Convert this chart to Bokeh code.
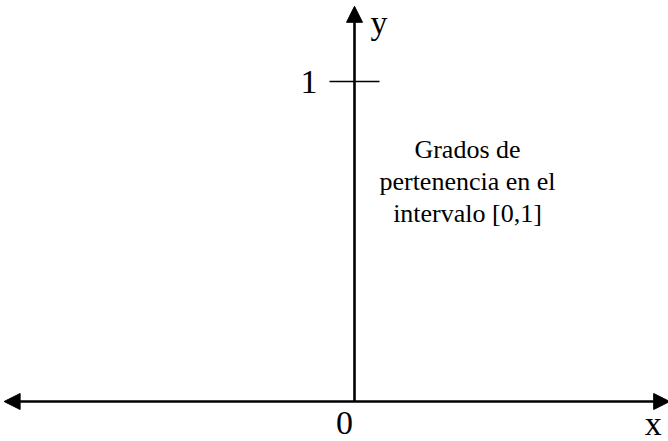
from bokeh.plotting import figure
from bokeh.models import Range1d, Arrow, NormalHead, ColumnDataSource
from bokeh.core.properties import value
from bokeh.embed import file_html
from bokeh.resources import INLINE

# Axis extents in data units (vertical axis at x=0, horizontal axis at y=0)
x_axis_extent = [-1.095, 0.985]
y_axis_extent = [0.0, 1.235]

# The single marked level on the vertical axis
tick_values = [1]
tick_labels = ["1"]
origin_label = ["0"]
axis_names = ["x", "y"]

# Annotation beside the vertical axis
note_lines = ["Grados de", "pertenencia en el", "intervalo [0,1]"]

FONT = value("Liberation Serif")
W, H = 668, 441
UNIT = 320.0                      # pixels per data unit
X0_PX, Y0_PX = 354.0, 401.0       # pixel position of the origin

p = figure(width=W, height=H, output_backend="svg", toolbar_location=None,
           x_range=Range1d(-X0_PX / UNIT, (W - X0_PX) / UNIT),
           y_range=Range1d(-(H - Y0_PX) / UNIT, Y0_PX / UNIT),
           min_border=0)
p.axis.visible = False
p.grid.visible = False
p.outline_line_color = None
p.background_fill_color = "white"
p.border_fill_color = "white"

# Horizontal axis, arrowheads at both ends
p.add_layout(Arrow(x_start=x_axis_extent[0], y_start=0, x_end=x_axis_extent[1], y_end=0,
                   line_width=2.6, line_color="black",
                   start=NormalHead(size=16, fill_color="black", line_color="black"),
                   end=NormalHead(size=16, fill_color="black", line_color="black")))

# Vertical axis, arrowhead at the top
p.add_layout(Arrow(x_start=0, y_start=y_axis_extent[0], x_end=0, y_end=y_axis_extent[1],
                   line_width=2.6, line_color="black",
                   end=NormalHead(size=16, fill_color="black", line_color="black")))

# Tick mark at y = 1
half = 25 / UNIT
p.segment(x0=[-half] * len(tick_values), y0=tick_values,
          x1=[half] * len(tick_values), y1=tick_values,
          line_color="black", line_width=1.5)

# Tick label
p.text(x=[-37 / UNIT] * len(tick_values), y=tick_values, text=tick_labels,
       text_font=FONT, text_font_size="34px", text_align="right",
       text_baseline="middle", text_color="black")

# Origin label
p.text(x=[-10 / UNIT], y=[-10 / UNIT], text=origin_label,
       text_font=FONT, text_font_size="34px", text_align="center",
       text_baseline="top", text_color="black")

# Name of the horizontal axis, in the lower right corner
p.text(x=[x_axis_extent[1] - 25 / UNIT], y=[-40 / UNIT], text=axis_names[:1],
       text_font=FONT, text_font_size="34px", text_align="left",
       text_baseline="bottom", text_color="black")

# Name of the vertical axis, beside its arrowhead
p.text(x=[16 / UNIT], y=[(Y0_PX - 22) / UNIT], text=axis_names[1:],
       text_font=FONT, text_font_size="34px", text_align="left",
       text_baseline="alphabetic", text_color="black")

# Annotation text, one line per row
line_gap = 32 / UNIT
first_baseline = (Y0_PX - 149) / UNIT
src = ColumnDataSource(dict(
    x=[113 / UNIT] * len(note_lines),
    y=[first_baseline - i * line_gap for i in range(len(note_lines))],
    text=note_lines))
p.text(x="x", y="y", text="text", source=src, text_font=FONT,
       text_font_size="26px", text_align="center", text_baseline="alphabetic",
       text_color="black")

open("out.html", "w").write(file_html(p, INLINE))
